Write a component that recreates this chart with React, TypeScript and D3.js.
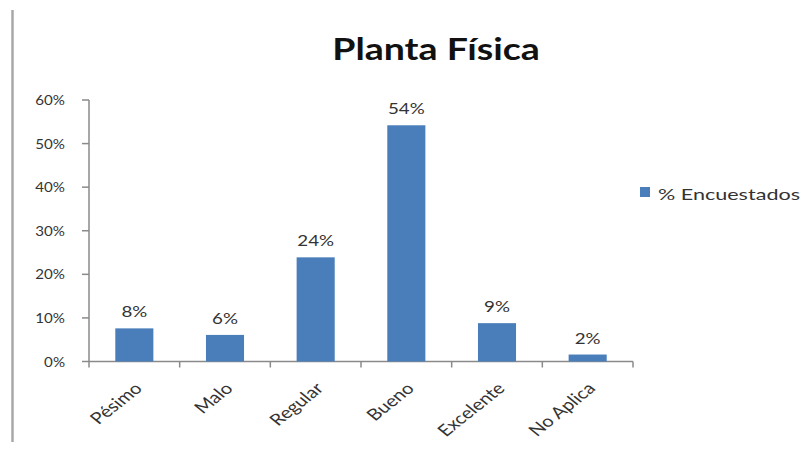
import React, { useEffect, useRef } from "react";
import * as d3 from "d3";

const categories = ["Pésimo", "Malo", "Regular", "Bueno", "Excelente", "No Aplica"];
const values = [0.076, 0.061, 0.239, 0.542, 0.088, 0.016];
const yTicks = [0, 0.1, 0.2, 0.3, 0.4, 0.5, 0.6];
const seriesName = "% Encuestados";
const title = "Planta Física";

const W = 802;
const H = 453;
const FONT = "Lato, 'Open Sans', sans-serif";
const SX = 1.25; // horizontal stretch seen in the reference

export default function App() {
  const ref = useRef<SVGSVGElement>(null);

  useEffect(() => {
    const svg = d3.select(ref.current);
    svg.selectAll("*").remove();

    const x0 = 89, x1 = 633, yTop = 100, yBot = 361.5;
    const x = d3.scaleBand<string>().domain(categories).range([x0, x1]).paddingInner(0.58).paddingOuter(0.29);
    const y = d3.scaleLinear().domain([0, 0.6]).range([yBot, yTop]);
    const band = d3.scaleBand<string>().domain(categories).range([x0, x1]);

    svg.append("rect").attr("width", W).attr("height", H).attr("fill", "#fff");

    // left border
    svg.append("line").attr("x1", 12.5).attr("x2", 12.5).attr("y1", 10).attr("y2", 442)
      .attr("stroke", "#a8a8a8").attr("stroke-width", 2.5);

    // title
    svg.append("text").attr("transform", `translate(436,60) scale(${SX},1)`).attr("text-anchor", "middle")
      .attr("font-family", FONT).attr("font-weight", "bold").attr("font-size", 30)
      .attr("fill", "#111").text(title);

    const axisColor = "#8a8a8a";
    const txtColor = "#333";
    // y axis
    svg.append("line").attr("x1", x0).attr("x2", x0).attr("y1", yTop).attr("y2", yBot)
      .attr("stroke", axisColor).attr("stroke-width", 1.5);
    yTicks.forEach((t) => {
      svg.append("line").attr("x1", x0 - 7).attr("x2", x0).attr("y1", y(t)).attr("y2", y(t))
        .attr("stroke", axisColor).attr("stroke-width", 1.5);
      svg.append("text").attr("transform", `translate(65,${y(t)}) scale(1.08,1)`).attr("dy", "0.36em")
        .attr("text-anchor", "end").attr("font-family", FONT).attr("font-size", 14)
        .attr("fill", txtColor).text(d3.format(".0%")(t));
    });

    // x axis
    svg.append("line").attr("x1", x0).attr("x2", x1).attr("y1", yBot).attr("y2", yBot)
      .attr("stroke", axisColor).attr("stroke-width", 1.5);
    const bounds = [x0, ...categories.map((c) => (band(c) as number) + band.bandwidth())];
    bounds.forEach((b) => {
      svg.append("line").attr("x1", b).attr("x2", b).attr("y1", yBot).attr("y2", yBot + 6)
        .attr("stroke", axisColor).attr("stroke-width", 1.5);
    });

    // bars
    categories.forEach((c, i) => {
      const bx = x(c) as number;
      svg.append("rect").attr("x", bx).attr("y", y(values[i])).attr("width", x.bandwidth())
        .attr("height", yBot - y(values[i])).attr("fill", "#4a7ebb");
      svg.append("text")
        .attr("transform", `translate(${bx + x.bandwidth() / 2},${y(values[i]) - 11}) scale(${SX},1)`)
        .attr("text-anchor", "middle").attr("font-family", FONT).attr("font-size", 15)
        .attr("fill", txtColor).text(d3.format(".0%")(values[i]));
      const cx = (band(c) as number) + band.bandwidth() / 2;
      svg.append("text")
        .attr("transform", `translate(${cx + 4},${yBot + 24}) scale(${SX},1) rotate(-45)`)
        .attr("text-anchor", "end").attr("dy", "0.35em").attr("font-family", FONT).attr("font-size", 16)
        .attr("fill", txtColor).text(c);
    });

    // legend
    svg.append("rect").attr("x", 640).attr("y", 187).attr("width", 10).attr("height", 10).attr("fill", "#4a7ebb");
    svg.append("text").attr("x", 658).attr("y", 200).attr("font-family", FONT)
      .attr("font-size", 16).attr("textLength", 142).attr("lengthAdjust", "spacingAndGlyphs")
      .attr("fill", txtColor).text(seriesName);
  }, []);

  return (
    <svg ref={ref} width={W} height={H} style={{ position: "absolute", left: 0, top: 0, display: "block" }} />
  );
}
